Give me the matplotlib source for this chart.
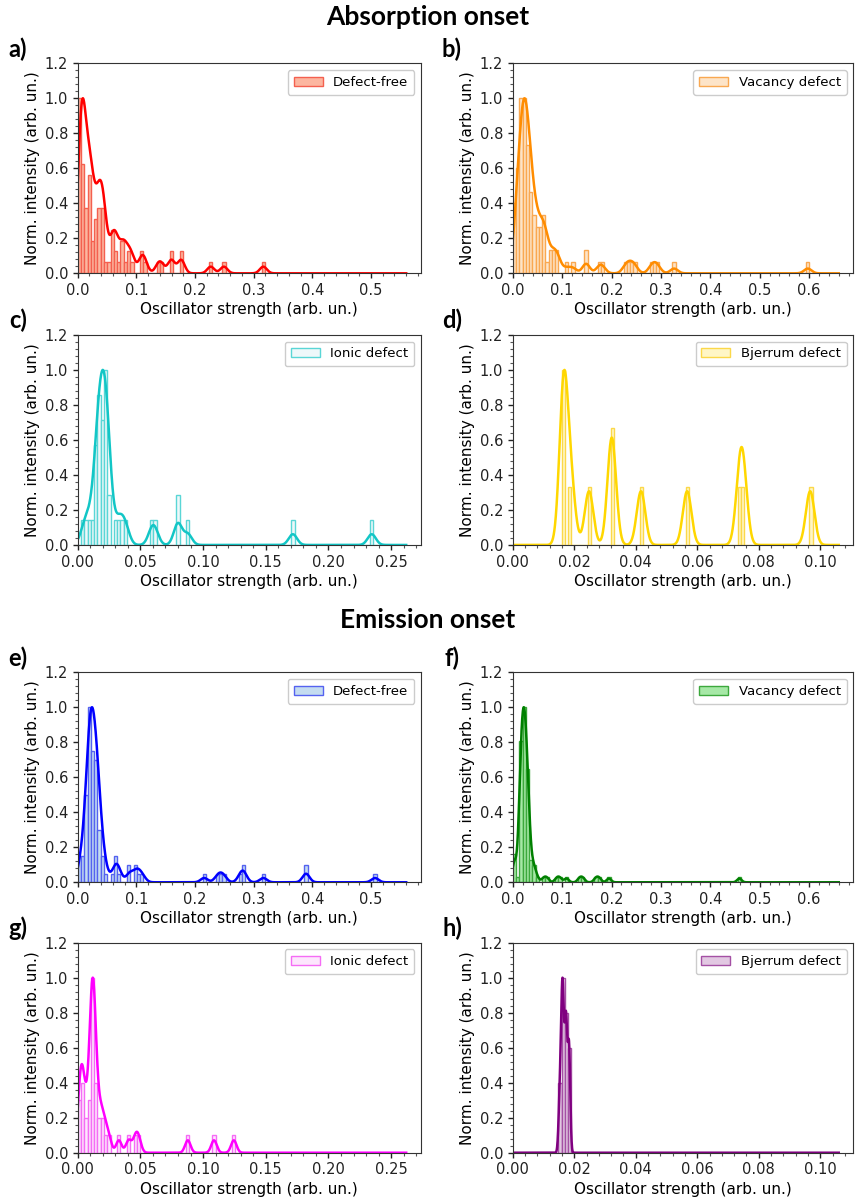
import numpy as np
import matplotlib
matplotlib.use("Agg")
import matplotlib.pyplot as plt
from matplotlib.ticker import AutoMinorLocator, MultipleLocator

# Oscillator strengths (arb. un.) and how many structures share each value
abs_free_f = [0.0050, 0.0106, 0.0162, 0.0218, 0.0274, 0.0330, 0.0386, 0.0442, 0.0498, 0.0554,
              0.0610, 0.0666, 0.0722, 0.0778, 0.0834, 0.0890, 0.0946, 0.1092, 0.1148, 0.1372,
              0.1428, 0.1596, 0.1764, 0.2268, 0.2492, 0.3164]
abs_free_n = [16, 10, 6, 9, 3, 5, 6, 6, 1, 1, 4, 2, 1, 3, 1, 2, 1, 2, 1, 1, 1, 2, 2, 1, 1, 1]

abs_vac_f = [0.0063, 0.0129, 0.0195, 0.0261, 0.0327, 0.0393, 0.0459, 0.0525, 0.0591, 0.0657,
             0.0723, 0.0789, 0.0855, 0.0921, 0.1089, 0.1221, 0.1485, 0.1749, 0.1815, 0.2277,
             0.2343, 0.2409, 0.2475, 0.2805, 0.2871, 0.2937, 0.3267, 0.5973]
abs_vac_n = [6, 9, 15, 15, 11, 7, 5, 4, 4, 5, 1, 2, 2, 2, 1, 1, 2, 1, 1, 1, 1, 1, 1, 1, 1, 1, 1, 1]

abs_ion_f = [0.0046, 0.0072, 0.0098, 0.0125, 0.0151, 0.0177, 0.0203, 0.0229, 0.0256, 0.0308,
             0.0334, 0.0360, 0.0387, 0.0590, 0.0616, 0.0799, 0.0878, 0.1716, 0.2345]
abs_ion_n = [1, 1, 1, 1, 4, 6, 5, 7, 2, 1, 1, 1, 1, 1, 1, 2, 1, 1, 1]

abs_bje_f = [0.0166, 0.0190, 0.0248, 0.0322, 0.0417, 0.0567, 0.0738, 0.0750, 0.0967]
abs_bje_n = [3, 1, 1, 2, 1, 1, 1, 1, 1]

emi_free_f = [0.0045, 0.0101, 0.0157, 0.0213, 0.0269, 0.0325, 0.0381, 0.0437, 0.0493, 0.0605,
              0.0661, 0.0717, 0.0885, 0.0997, 0.1053, 0.1109, 0.2156, 0.2380, 0.2436, 0.2492,
              0.2772, 0.2828, 0.3164, 0.3892, 0.5068]
emi_free_n = [3, 3, 10, 20, 15, 14, 6, 3, 1, 1, 3, 1, 2, 2, 1, 1, 1, 1, 1, 1, 1, 2, 1, 2, 1]

emi_vac_f = [0.0033, 0.0099, 0.0165, 0.0231, 0.0297, 0.0363, 0.0429, 0.0495, 0.0627, 0.0693,
             0.0891, 0.0957, 0.1089, 0.1353, 0.1419, 0.1683, 0.1749, 0.1947, 0.4587]
emi_vac_n = [5, 1, 25, 31, 20, 4, 3, 1, 1, 1, 1, 1, 1, 1, 1, 1, 1, 1, 1]

emi_ion_f = [0.0015, 0.0035, 0.0060, 0.0092, 0.0118, 0.0140, 0.0170, 0.0197, 0.0223, 0.0249,
             0.0328, 0.0406, 0.0459, 0.0485, 0.0878, 0.1087, 0.1245]
emi_ion_n = [3, 4, 2, 3, 10, 4, 2, 2, 1, 1, 1, 1, 1, 1, 1, 1, 1]

emi_bje_f = [0.0152, 0.0156, 0.0160, 0.0161, 0.0162, 0.0163, 0.0165, 0.0171, 0.0173, 0.0175,
             0.0183]
emi_bje_n = [1, 1, 1, 1, 1, 1, 1, 1, 2, 1, 3]

labels = ['Defect-free', 'Vacancy defect', 'Ionic defect', 'Bjerrum defect']
x_max = [0.56, 0.66, 0.262, 0.106]          # range of histogram / broadening per defect type
line_colors = ['red', 'darkorange', '#12c6c6', 'gold', 'blue', 'green', 'magenta', 'purple']
face_colors = ['#fcb6a0', '#fde4c8', '#eef8fa', '#fff6c6', '#c4dcf0', '#a6e8a6', '#fde6fd', '#e2c8e2']
edge_colors = ['#f4604f', '#f9a851', '#5ad6d6', '#fbd84a', '#5562f0', '#3ca83c', '#f56cf5', '#a450a4']
widths = [0.006, 0.0075, 0.0033, 0.0014, 0.006, 0.0045, 0.0022, 0.0004]

data = [(abs_free_f, abs_free_n), (abs_vac_f, abs_vac_n), (abs_ion_f, abs_ion_n), (abs_bje_f, abs_bje_n),
        (emi_free_f, emi_free_n), (emi_vac_f, emi_vac_n), (emi_ion_f, emi_ion_n), (emi_bje_f, emi_bje_n)]

plt.rcParams['font.family'] = 'DejaVu Sans'
fig = plt.figure(figsize=(8.56, 12.03), dpi=100)

lefts = [0.0908, 0.599]
col_w = [0.401, 0.398]
bottoms = [0.7728, 0.547, 0.2666, 0.0418]
tick_steps = [0.1, 0.1, 0.05, 0.02]

for i, (f, n) in enumerate(data):
    row, col = divmod(i, 2)
    kind = i % 4
    L = x_max[kind]
    ax = fig.add_axes([lefts[col], bottoms[row], col_w[col], 0.1746])
    x = np.repeat(f, n)
    counts, edges = np.histogram(x, bins=100, range=(0, L))
    ax.hist(x, bins=100, range=(0, L), weights=np.full(len(x), 1.0 / counts.max()),
            facecolor=face_colors[i], edgecolor=edge_colors[i], linewidth=1.0,
            label=labels[kind])
    # gaussian broadening of the individual strengths, scaled to unit maximum
    grid = np.linspace(0, L, 2000)
    dens = np.exp(-0.5 * ((grid[:, None] - x[None, :]) / widths[i]) ** 2).sum(axis=1)
    ax.plot(grid, dens / dens.max(), color=line_colors[i], lw=1.8)

    ax.set_xlim(0, L * 1.045)
    ax.set_ylim(0, 1.2)
    ax.xaxis.set_major_locator(MultipleLocator(tick_steps[kind]))
    ax.yaxis.set_major_locator(MultipleLocator(0.2))
    ax.xaxis.set_minor_locator(AutoMinorLocator(5))
    ax.yaxis.set_minor_locator(AutoMinorLocator(5))
    ax.tick_params(which='major', direction='out', length=3.5, width=1,
                   labelsize=10.5, colors='#222222')
    ax.tick_params(which='minor', direction='out', length=2, width=0.8, colors='#555555')
    for s in ax.spines.values():
        s.set_color('#333333')
    ax.set_xlabel('Oscillator strength (arb. un.)', fontsize=11, labelpad=3)
    ax.set_ylabel('Norm. intensity (arb. un.)', fontsize=11, labelpad=3)
    ax.legend(loc='upper right', fontsize=9.5, handlelength=2.2, borderpad=0.45,
              edgecolor='#cccccc', framealpha=1)
    letter = 'abcdefgh'[i] + ')'
    lx = 0.021 if col == 0 else 0.528
    ly = bottoms[row] + 0.1746 + 0.012
    fig.text(lx, ly, letter, fontsize=17, fontweight='bold', family='Lato', ha='center', va='center')

fig.text(0.5, 0.986, 'Absorption onset', fontsize=19, fontweight='bold', family='Lato', ha='center', va='center')
fig.text(0.5, 0.4846, 'Emission onset', fontsize=19, fontweight='bold', family='Lato', ha='center', va='center')

fig.savefig('out.png', dpi=100)
